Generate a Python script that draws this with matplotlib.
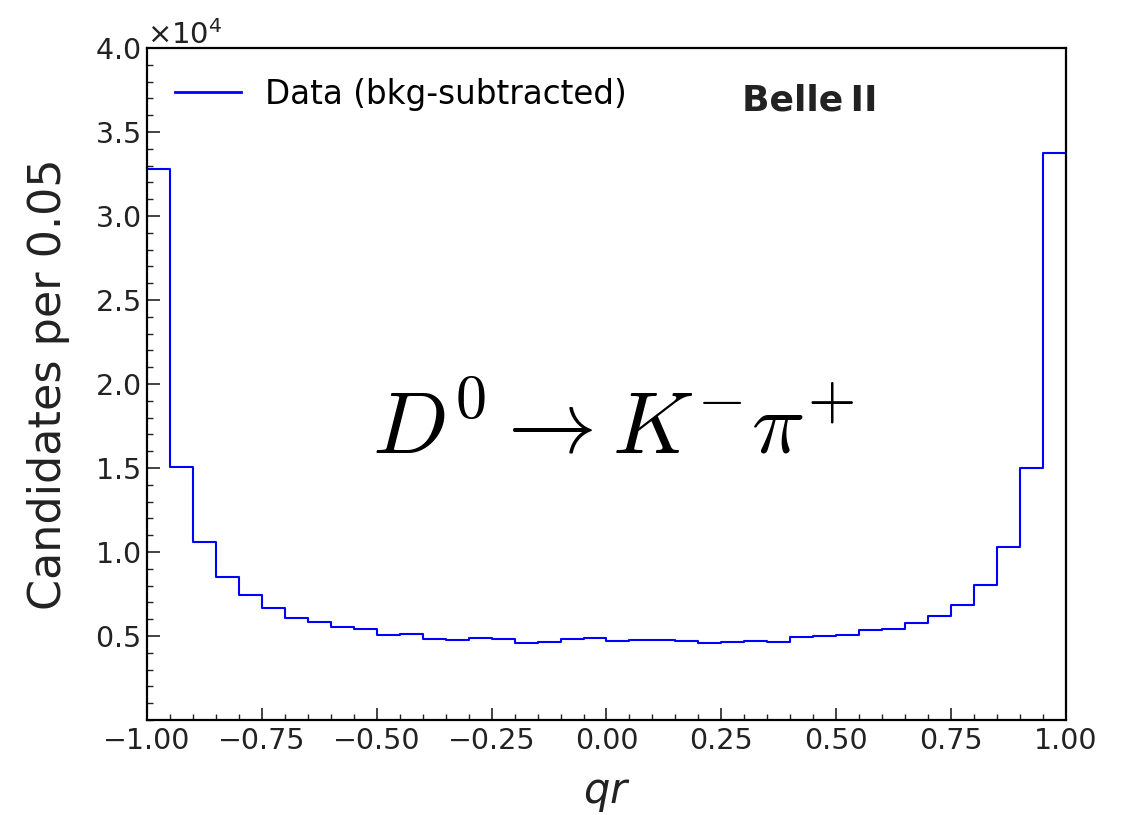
import numpy as np
import matplotlib
matplotlib.use('Agg')
from matplotlib import pyplot as plt
from matplotlib.ticker import MultipleLocator, ScalarFormatter

# bin edges of qr, width 0.05
edges = np.linspace(-1.0, 1.0, 41)
# candidates per bin (bkg-subtracted)
counts = np.array([
    32800, 15080, 10580, 8510, 7440, 6650, 6070, 5850, 5550, 5420,
    5040, 5110, 4820, 4780, 4880, 4820, 4600, 4660, 4800, 4860,
    4680, 4740, 4760, 4680, 4560, 4620, 4720, 4620, 4920, 5020,
    5080, 5360, 5420, 5790, 6210, 6860, 8060, 10280, 15000, 33750,
])

plt.rcParams['font.family'] = 'DejaVu Sans'
plt.rcParams['mathtext.fontset'] = 'dejavusans'
txt = '#222222'

fig = plt.figure(figsize=(11.27, 8.15), dpi=100)
ax = fig.add_axes([0.1304, 0.1166, 0.8155, 0.8245])

ax.step(edges, np.append(counts, counts[-1]), where='post',
        color='#0000ff', lw=1.5, label='Data (bkg-subtracted)')

ax.set_xlim(-1, 1)
ax.set_ylim(0, 40000)
ax.set_xticks(np.arange(-1, 1.01, 0.25))
ax.set_yticks(np.arange(5000, 40001, 5000))
ax.xaxis.set_minor_locator(MultipleLocator(0.05))
ax.yaxis.set_minor_locator(MultipleLocator(1000))

fmt = ScalarFormatter(useMathText=True)
fmt.set_powerlimits((0, 0))
ax.yaxis.set_major_formatter(fmt)
ax.yaxis.get_offset_text().set_fontsize(21)
ax.yaxis.get_offset_text().set_color(txt)

ax.tick_params(which='both', direction='in', top=False, right=False,
               labelsize=20.5, labelcolor=txt, color=txt)
ax.tick_params(which='major', length=9, width=1.2, pad=5)
ax.tick_params(which='minor', length=4.5, width=1.0)
for s in ax.spines.values():
    s.set_linewidth(1.6)
    s.set_color('black')

ax.set_ylabel('Candidates per 0.05', fontsize=32, color=txt, labelpad=18)
ax.set_xlabel('$qr$', fontsize=30, color=txt, labelpad=12)

leg = ax.legend(loc='upper left', frameon=False, fontsize=23.5,
                handlelength=2.0, handletextpad=0.75, borderaxespad=0.3,
                bbox_to_anchor=(0.006, 0.99))
for h in leg.legend_handles:
    h.set_linewidth(2.0)

ax.text(0.647, 0.922, 'Belle\u2009II', transform=ax.transAxes,
        fontsize=26, fontweight='bold', color=txt, ha='left', va='center')

ax.text(-0.51, 15850, r'$D^0 \rightarrow K^{-}\pi^{+}$', fontsize=64,
        math_fontfamily='cm', ha='left', va='baseline', color='black')

fig.savefig('out.png', dpi=100)
